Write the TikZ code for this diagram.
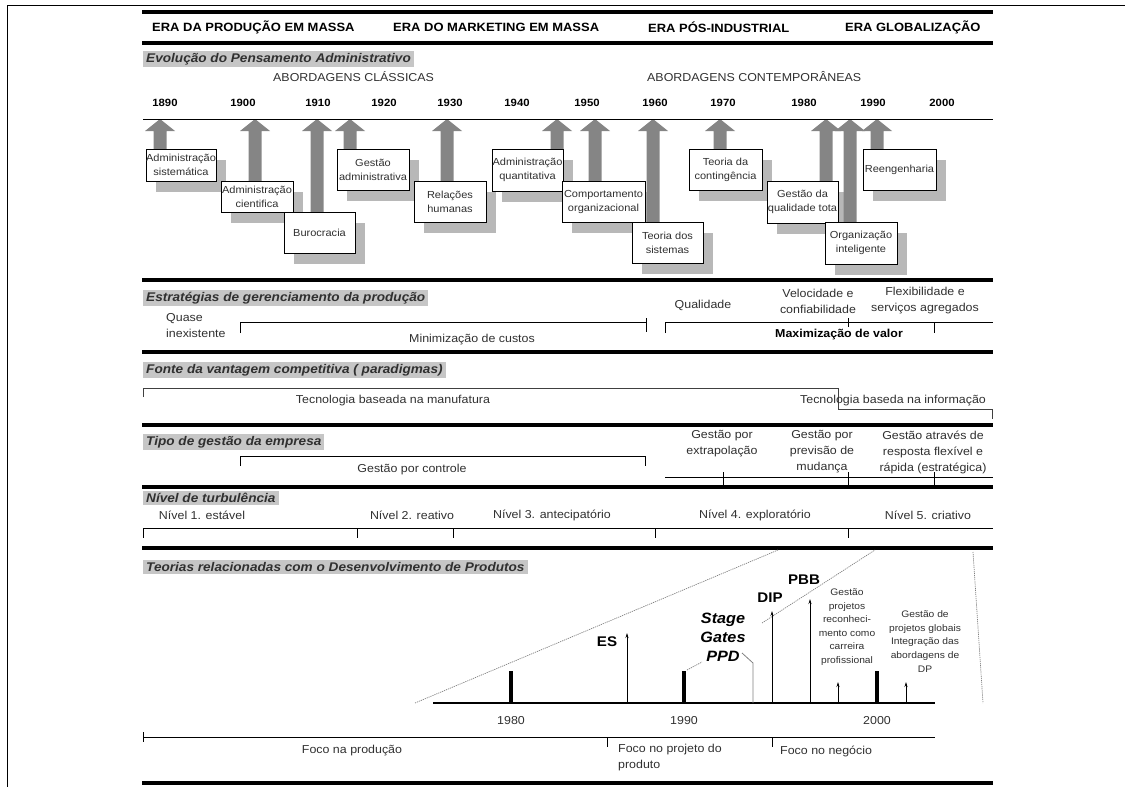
\documentclass[tikz,border=0pt]{standalone}
\usepackage{fontspec}
\setmainfont{Liberation Sans}[FakeStretch=1.08]
\usetikzlibrary{arrows.meta}
\definecolor{hdrgray}{HTML}{C6C6C6}
\definecolor{arrgray}{HTML}{858585}
\definecolor{shgray}{HTML}{B8B8B8}
\definecolor{txt}{HTML}{303030}
\pgfdeclarelayer{shad}
\pgfdeclarelayer{arr}
\pgfsetlayers{shad,arr,main}
\newcommand{\conceptbox}[7]{%
  \begin{pgfonlayer}{shad}
    \fill[shgray] ({#2-#4/2+10},{#3-#5/2+11}) rectangle ({#2+#4/2+10},{#3+#5/2+11});
  \end{pgfonlayer}
  \node[tbox, minimum width=#4, minimum height=#5] (#1) at (#2,#3) {#7};
  \begin{pgfonlayer}{arr}
    \fill[arrgray] ({#6-6.5},{#3-#5/2}) -- ({#6-6.5},131) -- ({#6-15},131) -- (#6,119)
      -- ({#6+15},131) -- ({#6+6.5},131) -- ({#6+6.5},{#3-#5/2}) -- cycle;
  \end{pgfonlayer}
}
\begin{document}
\begin{tikzpicture}[x=1pt,y=-1pt,
  era/.style={anchor=west, inner sep=0pt, font=\fontsize{12}{14}\selectfont\bfseries},
  hdr/.style={anchor=west, fill=hdrgray, inner xsep=3pt, inner ysep=2pt, text=txt, font=\fontsize{12.6}{14}\selectfont\bfseries\itshape},
  yr/.style={inner sep=0pt, font=\fontsize{10.5}{12}\selectfont\bfseries},
  lbl/.style={inner sep=0pt, text=txt, align=center, font=\fontsize{11.5}{16}\selectfont},
  tbox/.style={draw, fill=white, line width=0.6pt, text=txt, align=center, inner sep=0pt, font=\fontsize{10.2}{14}\selectfont},
  rule/.style={line width=3.5pt},
  thinl/.style={line width=0.6pt},
  tarr/.style={-{Stealth[length=5pt,width=3pt]}, line width=0.7pt},
  dotl/.style={gray, line width=0.7pt, dash pattern=on 1.2pt off 0.9pt},
  bar/.style={line width=4pt},
  big/.style={inner sep=0pt, font=\fontsize{14}{19}\selectfont\bfseries},
  small/.style={inner sep=0pt, text=txt, align=center, font=\fontsize{9.5}{13.6}\selectfont}
]
\useasboundingbox (0,0) rectangle (1125,787);
% frame
\draw[line width=0.8pt] (7,787) -- (7,5) -- (1125,5);

% era band
\draw[rule] (142,12) -- (993,12);
\draw[rule] (142,43) -- (993,43);
\node[era] (e1) at (152,27) {ERA DA PRODUÇÃO EM MASSA};
\node[era] (e2) at (393,27) {ERA DO MARKETING EM MASSA};
\node[era] (e3) at (648,27) {ERA PÓS-INDUSTRIAL};
\node[era] (e4) at (845,27) {ERA GLOBALIZAÇÃO};

% section 1
\node[hdr] (h1) at (143,59) {Evolução do Pensamento Administrativo};
\node[lbl, anchor=west] (ab1) at (273,77) {ABORDAGENS CLÁSSICAS};
\node[lbl, anchor=west] (ab2) at (647,77) {ABORDAGENS CONTEMPORÂNEAS};
\foreach \yy/\xx in {1890/165,1900/243,1910/318,1920/384,1930/450,1940/517,1950/587,1960/655,1970/723,1980/804,1990/873,2000/942}
  \node[yr] (y\yy) at (\xx,103) {\yy};
\draw[thinl] (143,119) -- (993,119);

\conceptbox{b1}{181}{165}{70}{32}{160}{Administração\\sistemática}
\conceptbox{b2}{257}{196.5}{72}{31}{255}{Administração\\cientifica}
\conceptbox{b3}{319.5}{232.5}{71}{41}{317}{Burocracia}
\conceptbox{b4}{373}{169.5}{72}{41}{350}{Gestão\\administrativa}
\conceptbox{b5}{450}{201.5}{72}{41}{447}{Relações\\humanas}
\conceptbox{b6}{527.5}{170}{71}{42}{557}{Administração\\quantitativa}
\conceptbox{b7}{603.5}{201.5}{83}{41}{595}{Comportamento\\organizacional}
\conceptbox{b8}{667.5}{242.5}{71}{41}{653}{Teoria dos\\sistemas}
\conceptbox{b9}{725.5}{169.5}{73}{41}{720}{Teoria da\\contingência}
\conceptbox{b10}{802.5}{202}{71}{42}{826}{Gestão da\\qualidade tota}
\conceptbox{b11}{861}{243}{72}{42}{850}{Organização\\inteligente}
\conceptbox{b12}{899.5}{169.5}{73}{41}{877}{Reengenharia}

\draw[rule] (142,280) -- (993,280);

% section 2
\node[hdr] (h2) at (143,298) {Estratégias de gerenciamento da produção};
\node[lbl, align=left, anchor=west] (qi) at (166,325.5) {Quase\\inexistente};
\draw[thinl] (240,333) -- (240,322) -- (646,322);
\draw[thinl] (646,318) -- (646,332);
\node[lbl] (mc) at (472,340) {Minimização de custos};
\node[lbl] (ql) at (703,305) {Qualidade};
\node[lbl] (vc) at (818,301) {Velocidade e\\confiabilidade};
\node[lbl] (fs) at (925,301) {Flexibilidade e\\serviços agregados};
\draw[thinl] (665,333) -- (665,322) -- (993,322);
\draw[thinl] (848,318) -- (848,327);
\draw[thinl] (934,322) -- (934,333);
\node[lbl, text=black, font=\fontsize{11.5}{16}\selectfont\bfseries] (mv) at (839,335) {Maximização de valor};

\draw[rule] (142,352) -- (993,352);

% section 3
\node[hdr] (h3) at (143,370) {Fonte da vantagem competitiva ( paradigmas)};
\draw[thinl, black!75] (143,397) -- (143,388) -- (838,388) -- (838,409) -- (992,409) -- (992,419);
\node[lbl] (tm) at (393,401) {Tecnologia baseada na manufatura};
\node[lbl] (ti) at (893,401) {Tecnologia baseda na informação};

\draw[rule] (142,425) -- (993,425);

% section 4
\node[hdr] (h4) at (143,442) {Tipo de gestão da empresa};
\draw[thinl] (240,466) -- (240,456) -- (645,456) -- (645,466);
\node[lbl] (gc) at (412,470) {Gestão por controle};
\node[lbl] (ge) at (722,444) {Gestão por\\extrapolação};
\node[lbl] (gp) at (822,452) {Gestão por\\previsão de\\mudança};
\node[lbl] (ga) at (933,452) {Gestão através de\\resposta flexível e\\rápida (estratégica)};
\draw[thinl] (665,477) -- (993,477);
\foreach \xx in {723,848,934} \draw[thinl] (\xx,472) -- (\xx,485);

\draw[rule] (142,487) -- (993,487);

% section 5
\node[hdr] (h5) at (143,498) {Nível de turbulência};
\node[lbl] (n1) at (202,515) {Nível 1. estável};
\node[lbl] (n2) at (412,515) {Nível 2. reativo};
\node[lbl] (n3) at (552,515) {Nível 3. antecipatório};
\node[lbl] (n4) at (755,515) {Nível 4. exploratório};
\node[lbl] (n5) at (928,515) {Nível 5. criativo};
\draw[thinl] (143,528) -- (993,528);
\foreach \xx in {143,357,453,655,848} \draw[thinl] (\xx,528) -- (\xx,538);

\draw[rule] (142,548) -- (993,548);

% section 6
\node[hdr] (h6) at (143,567) {Teorias relacionadas com o Desenvolvimento de Produtos};
\draw[dotl] (415,703) -- (778,550);
\draw[dotl] (762,623) -- (875,550);
\draw[dotl] (973,552) -- (983,703);
\draw[dotl] (687,670) -- (702,662);
\draw[line width=1.5pt] (433,703) -- (935,703);
\foreach \xx/\yy in {511/1980,684/1990,877/2000} {
  \draw[bar] (\xx,671) -- (\xx,703);
  \node[lbl, font=\fontsize{11.5}{14}\selectfont] (t\yy) at (\xx,721) {\yy};
}
\draw[tarr] (627,703) -- (627,633);
\draw[tarr] (772,703) -- (772,611);
\draw[tarr] (810,703) -- (810,599);
\draw[tarr] (838,703) -- (838,682);
\draw[tarr] (906,703) -- (906,682);
\draw[gray, line width=0.8pt] (753,703) -- (753,663) -- (742,653);
\node[big] (es) at (607,642) {ES};
\node[big] (dip) at (770,598) {DIP};
\node[big] (pbb) at (804,580) {PBB};
\node[big, align=center, font=\fontsize{15}{19}\selectfont\bfseries\itshape] (sg) at (723,637) {Stage\\Gates\\PPD};
\node[small] (gpr) at (847,627) {Gestão\\projetos\\reconheci-\\mento como\\carreira\\profissional};
\node[small] (gpg) at (925,641.5) {Gestão de\\projetos globais\\Integração das\\abordagens de\\DP};

\draw[thinl] (143,737) -- (935,737);
\draw[thinl] (143,732) -- (143,742);
\draw[thinl] (607,737) -- (607,747);
\draw[thinl] (772,737) -- (772,747);
\node[lbl] (fp) at (352,751) {Foco na produção};
\node[lbl, align=left, anchor=north west] (fpp) at (618,744) {Foco no projeto do\\produto};
\node[lbl, anchor=west] (fn) at (780,751) {Foco no negócio};

\draw[rule] (142,783) -- (993,783);
\end{tikzpicture}
\end{document}
